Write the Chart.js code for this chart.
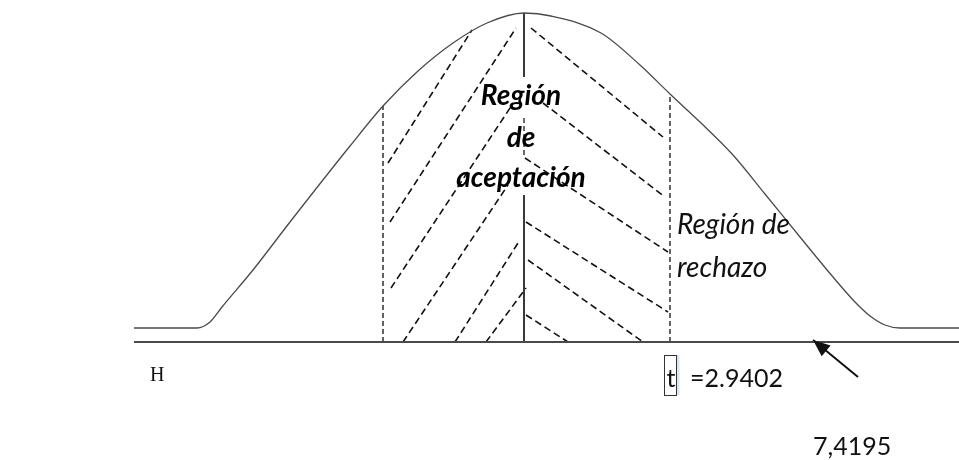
<!DOCTYPE html>
<html>
<head>
<meta charset="utf-8">
<script src="https://cdn.jsdelivr.net/npm/chart.js@4"></script>
<style>
html,body{margin:0;padding:0;background:#fff;}
#wrap{width:959px;height:460px;position:relative;}
</style>
</head>
<body>
<div id="wrap"><canvas id="c"></canvas></div>
<script>
// Bell curve (hand-drawn sketch), x: horizontal units, y: height units
const curveX = [-39, -32.7, -31.4, -30.2, -27.1, -23.4, -17.4, -14.1, -10.6, -7.1, -3.7, 0, 2.7, 7.7, 11.6, 14.6, 17.6, 20.9, 24.1, 27.6, 30.9, 33.1, 34.6, 36.1, 37.6, 43.5];
const curveY = [1.4, 1.4, 2.0, 3.5, 7.2, 12.0, 19.6, 23.6, 27.1, 29.9, 31.9, 32.9, 32.6, 30.9, 27.7, 24.8, 22.0, 18.7, 14.8, 10.5, 6.5, 4.0, 2.6, 1.7, 1.4, 1.4];

// Horizontal axis line
const axisX = [-39, 43.5];
const axisY = [0, 0];

// Critical boundaries (dashed verticals)
const boundLeft = [-14.1, 0, -14.1, 23.6];
const boundRight = [14.6, 0, 14.6, 24.8];

// Centre line pieces
const centreSolidLow = [0, 0, 0, 14.7];
const centreDashMid = [0, 18.7, 0, 22.7];
const centreSolidTop = [0, 26.5, 0, 32.9];

// Hatch segments [x1, y1, x2, y2]
const hatchLeft = [
  [-13.6, 17.9, -5.2, 31.2],
  [-13.4, 12.0, -0.8, 31.4],
  [-13.3, 5.4, -1.2, 23.7],
  [-12.1, 0.0, -1.6, 15.7],
  [-6.9, 0.0, -0.6, 9.9],
  [-3.8, 0.0, 0.2, 5.4]
];
const hatchRight = [
  [0.7, 31.4, 13.9, 20.5],
  [1.9, 23.9, 14.1, 14.5],
  [0.1, 18.4, 14.4, 9.0],
  [0.2, 12.0, 14.4, 3.0],
  [0.4, 8.2, 11.9, 0.0],
  [0.2, 2.7, 4.4, 0.0]
];

// Arrow (tail -> tip)
const arrowX = [33.4, 28.9];
const arrowY = [-3.5, 0.2];

// Texts
const acceptLines = ['Región', 'de', 'aceptación'];
const rejectLines = ['Región de', 'rechazo'];
const tCritLabel = '=2.9402';
const tCalcLabel = '7,4195';

function seg(s, color, width, dash) {
  return {
    data: [{x: s[0], y: s[1]}, {x: s[2], y: s[3]}],
    showLine: true, borderColor: color, borderWidth: width,
    borderDash: dash || [], pointRadius: 0, fill: false, tension: 0
  };
}

const datasets = [];
datasets.push({
  data: curveX.map((v, i) => ({x: v, y: curveY[i]})),
  showLine: true, borderColor: '#4a4a4a', borderWidth: 1.3,
  pointRadius: 0, fill: false, cubicInterpolationMode: 'monotone'
});
datasets.push({
  data: axisX.map((v, i) => ({x: v, y: axisY[i]})),
  showLine: true, borderColor: '#4a4a4a', borderWidth: 2, pointRadius: 0
});
datasets.push(seg(boundLeft, '#111', 1.3, [5, 3]));
datasets.push(seg(boundRight, '#111', 1.3, [5, 3]));
datasets.push(seg(centreSolidLow, '#3a3a3a', 2));
datasets.push(seg(centreDashMid, '#3a3a3a', 1.5, [5, 3]));
datasets.push(seg(centreSolidTop, '#3a3a3a', 2));
hatchLeft.forEach(s => datasets.push(seg(s, '#111', 1.6, [7, 4])));
hatchRight.forEach(s => datasets.push(seg(s, '#111', 1.6, [7, 4])));
datasets.push({
  data: arrowX.map((v, i) => ({x: v, y: arrowY[i]})),
  showLine: true, borderColor: '#111', borderWidth: 2, pointRadius: 0
});

const annot = {
  id: 'annot',
  afterDatasetsDraw(chart) {
    const {ctx, scales: {x, y}} = chart;
    const X = v => x.getPixelForValue(v), Y = v => y.getPixelForValue(v);
    ctx.save();
    // arrowhead at tip
    const tx = X(arrowX[1]), ty = Y(arrowY[1]);
    const fx = X(arrowX[0]), fy = Y(arrowY[0]);
    const a = Math.atan2(ty - fy, tx - fx);
    const L = 17, W = 7;
    ctx.fillStyle = '#111';
    ctx.beginPath();
    ctx.moveTo(tx, ty);
    ctx.lineTo(tx - L * Math.cos(a) + W * Math.sin(a), ty - L * Math.sin(a) - W * Math.cos(a));
    ctx.lineTo(tx - L * Math.cos(a) - W * Math.sin(a), ty - L * Math.sin(a) + W * Math.cos(a));
    ctx.closePath();
    ctx.fill();

    // acceptance region label
    ctx.fillStyle = '#000';
    ctx.textAlign = 'center';
    ctx.textBaseline = 'alphabetic';
    ctx.font = 'italic bold 28px Lato';
    const accY = [23.7, 19.5, 15.5];
    acceptLines.forEach((t, i) => ctx.fillText(t, X(-0.3), Y(accY[i])));

    // rejection region label
    ctx.textAlign = 'left';
    ctx.font = 'italic 28px Lato';
    ctx.fillStyle = '#111';
    const rejY = [10.8, 6.5];
    rejectLines.forEach((t, i) => ctx.fillText(t, X(15.3), Y(rejY[i])));

    // t critical with box
    ctx.font = '25px Lato';
    ctx.fillStyle = '#dbe5f1';
    ctx.fillRect(X(15.25), Y(-1.3), 3, Y(-5.3) - Y(-1.3));
    ctx.strokeStyle = '#333';
    ctx.lineWidth = 1;
    ctx.strokeRect(Math.round(X(14.0)) + 0.5, Math.round(Y(-1.3)) + 0.5, X(15.2) - X(14.0), Y(-5.3) - Y(-1.3));
    ctx.fillStyle = '#111';
    ctx.fillText('t', X(14.25), Y(-4.5));
    ctx.fillText(tCritLabel, X(16.6), Y(-4.5));
    ctx.fillText(tCalcLabel, X(28.9), Y(-11.3));

    // stray glyph on the left
    ctx.font = '20px "Liberation Serif"';
    ctx.fillText('H', X(-37.4), Y(-3.9));
    ctx.restore();
  }
};

new Chart(document.getElementById('c'), {
  type: 'scatter',
  data: {datasets},
  options: {
    responsive: true,
    maintainAspectRatio: false,
    animation: false,
    layout: {padding: 0},
    plugins: {legend: {display: false}, tooltip: {enabled: false}},
    scales: {
      x: {type: 'linear', display: false, min: -52.4, max: 43.5},
      y: {type: 'linear', display: false, min: -11.8, max: 34.2}
    }
  },
  plugins: [annot]
});
</script>
</body>
</html>
